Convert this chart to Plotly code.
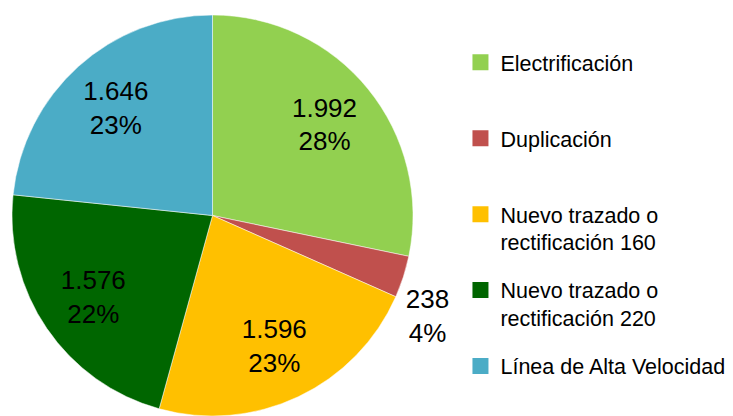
import plotly.graph_objects as go

categorias = ["Electrificación", "Duplicación", "Nuevo trazado o<br>rectificación 160",
              "Nuevo trazado o<br>rectificación 220", "Línea de Alta Velocidad"]
valores = [1992, 238, 1596, 1576, 1646]
porcentajes = [28, 4, 23, 22, 23]
colores = ["#92D050", "#C0504D", "#FFC000", "#006600", "#4BACC6"]
leyenda = ["Electrificación<br> ", "Duplicación<br> ", "Nuevo trazado o<br>rectificación 160",
           "Nuevo trazado o<br>rectificación 220", "Línea de Alta Velocidad<br> "]

ETIQ = "%{value:,}<br>%{customdata}%"
pos_dentro = ["inside", "none", "inside", "inside", "inside"]
pos_fuera = ["none", "outside", "none", "none", "none"]

FONT = "Liberation Sans"
# the page body adds an 8px margin, so the figure is 8px smaller than the window
W, H = 725, 408
ML, MR, MT, MB = 4, 0, 7, 0
PW = W - ML - MR
DOM_X = [0, 401 / PW]
TRANSP = ["rgba(0,0,0,0)"] * len(valores)

fig = go.Figure()
# full pie (colour fill)
fig.add_trace(go.Pie(
    labels=categorias, values=valores,
    sort=False, direction="clockwise", rotation=0,
    marker=dict(colors=colores, line=dict(color="white", width=0.5)),
    textinfo="none", domain=dict(x=DOM_X, y=[0, 1]),
    showlegend=False, hoverinfo="label+value",
))
# transparent ring on top carrying the inside data labels further out
fig.add_trace(go.Pie(
    labels=categorias, values=valores, customdata=porcentajes,
    sort=False, direction="clockwise", rotation=0, hole=0.44,
    marker=dict(colors=TRANSP, line=dict(width=0)),
    texttemplate=ETIQ, textposition=pos_dentro,
    insidetextorientation="horizontal",
    textfont=dict(family=FONT, size=26, color="black"),
    domain=dict(x=DOM_X, y=[0, 1]),
    showlegend=False, hoverinfo="skip",
))
# transparent layer for the small slice's outside label (placed near the slice's end)
fig.add_trace(go.Pie(
    labels=categorias, values=valores, customdata=porcentajes,
    sort=False, direction="clockwise", rotation=10,
    marker=dict(colors=TRANSP, line=dict(width=0)),
    texttemplate=ETIQ, textposition=pos_fuera,
    textfont=dict(family=FONT, size=26, color="black"),
    domain=dict(x=DOM_X, y=[0, 1]),
    showlegend=False, hoverinfo="skip",
))
for i, (nombre, color) in enumerate(zip(leyenda, colores)):
    fig.add_trace(go.Scatter(
        x=[None], y=[None], mode="markers", name=nombre,
        marker=dict(symbol="square", size=16, color=color),
        legendgroup=f"g{i}", showlegend=True,
    ))

fig.update_layout(
    width=W, height=H,
    margin=dict(l=ML, r=MR, t=MT, b=MB, autoexpand=False),
    paper_bgcolor="white", plot_bgcolor="white",
    separators=",.",
    xaxis=dict(visible=False), yaxis=dict(visible=False),
    legend=dict(x=0.622, y=0.933, xanchor="left", yanchor="top",
                font=dict(family=FONT, size=21.5, color="black"),
                tracegroupgap=17, valign="top", itemsizing="trace",
                bgcolor="rgba(0,0,0,0)"),
)
fig.write_html("out.html")
